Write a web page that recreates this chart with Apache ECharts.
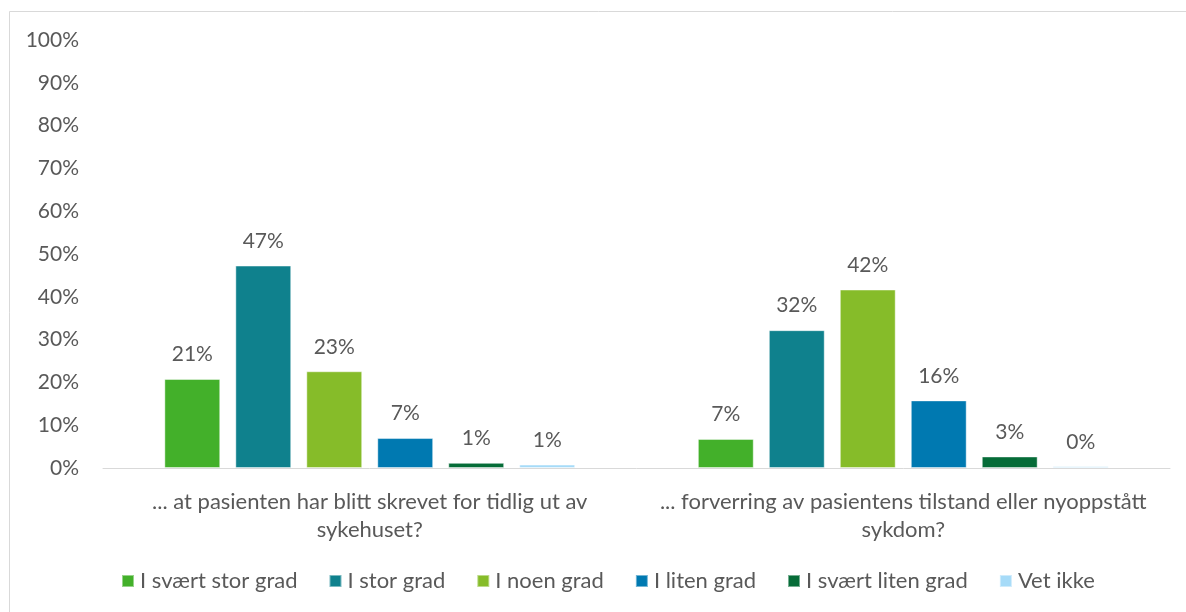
<!DOCTYPE html>
<html>
<head>
<meta charset="utf-8">
<script src="https://cdn.jsdelivr.net/npm/echarts@6/dist/echarts.min.js"></script>
<style>
  html, body { margin: 0; padding: 0; background: #fff; }
  #chart { width: 1186px; height: 612px; }
</style>
</head>
<body>
<div id="chart"></div>
<script>
// Question categories (x axis)
const categories = [
  '... at pasienten har blitt skrevet for tidlig ut av\nsykehuset?',
  '... forverring av pasientens tilstand eller nyoppstått\nsykdom?'
];

// Answer options (legend / series)
const seriesNames = ['I svært stor grad', 'I stor grad', 'I noen grad', 'I liten grad', 'I svært liten grad', 'Vet ikke'];

// Share of answers in percent, one array per answer option (category order)
const sværtStorGrad  = [20.8, 6.8];
const storGrad       = [47.3, 32.2];
const noenGrad       = [22.6, 41.7];
const litenGrad      = [7.0, 15.8];
const sværtLitenGrad = [1.2, 2.7];
const vetIkke        = [0.8, 0.4];

const seriesValues = [sværtStorGrad, storGrad, noenGrad, litenGrad, sværtLitenGrad, vetIkke];
const seriesColors = ['#43B02A', '#0F818D', '#86BC29', '#0079B1', '#066C38', '#A6DBF8'];

// Y axis ticks
const yMin = 0, yMax = 100, yStep = 10;

const FONT = 'Lato';
const TEXT = '#595959';

const chart = echarts.init(document.getElementById('chart'), null, { renderer: 'canvas' });

chart.setOption({
  animation: false,
  backgroundColor: '#ffffff',
  textStyle: { fontFamily: FONT },
  graphic: [{
    type: 'rect',
    silent: true,
    shape: { x: 9.5, y: 11.5, width: 1200, height: 700 },
    style: { fill: 'none', stroke: '#d9d9d9', lineWidth: 1 }
  }],
  grid: { left: 103, right: 16, top: 40, bottom: 144, containLabel: false },
  legend: {
    bottom: 15,
    left: 116,
    itemWidth: 12,
    itemHeight: 12,
    itemGap: 31,
    icon: 'rect',
    textStyle: { fontFamily: FONT, fontSize: 22, color: TEXT, padding: [0, 0, 0, 1] },
    data: seriesNames
  },
  xAxis: {
    type: 'category',
    data: categories,
    axisLine: { show: true, lineStyle: { color: '#d9d9d9', width: 1 } },
    axisTick: { show: false },
    axisLabel: {
      interval: 0,
      hideOverlap: false,
      fontFamily: FONT, fontSize: 22, color: TEXT,
      margin: 20, lineHeight: 28, align: 'center'
    }
  },
  yAxis: {
    type: 'value',
    min: yMin,
    max: yMax,
    interval: yStep,
    axisLine: { show: false },
    axisTick: { show: false },
    splitLine: { show: false },
    axisLabel: {
      fontFamily: FONT, fontSize: 21, color: TEXT, margin: 24,
      formatter: v => v + '%'
    }
  },
  series: seriesNames.map((name, i) => ({
    name,
    type: 'bar',
    data: seriesValues[i],
    barGap: '27%',
    barCategoryGap: '23%',
    itemStyle: {
      color: seriesColors[i],
      borderColor: 'rgba(255,255,255,0.45)',
      borderWidth: 1
    },
    label: {
      show: true,
      position: 'top',
      distance: 14,
      fontFamily: FONT,
      fontSize: 21,
      color: TEXT,
      formatter: p => Math.round(p.value) + '%'
    }
  }))
});
</script>
</body>
</html>
